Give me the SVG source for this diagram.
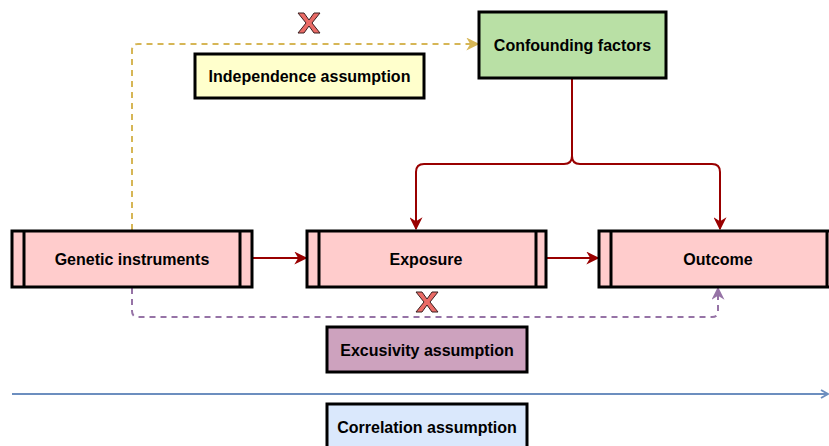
<svg xmlns="http://www.w3.org/2000/svg" width="829" height="446" viewBox="0 0 829 446">
<style>
.box{stroke:#000;stroke-width:3}
.t{font-family:"Liberation Sans",Arial,sans-serif;font-weight:bold;font-size:16px;fill:#000;text-anchor:middle;dominant-baseline:central}
.red{fill:none;stroke:#990000;stroke-width:2}
.x{fill:#ea6b66;stroke:#3a2020;stroke-width:1}
</style>
<defs>
<marker id="ar" viewBox="0 0 10 10" refX="9" refY="5" markerWidth="13" markerHeight="13" markerUnits="userSpaceOnUse" orient="auto"><path d="M0,0 L10,5 L0,10 L3,5 Z" fill="#990000"/></marker>
<marker id="ay" viewBox="0 0 10 10" refX="9" refY="5" markerWidth="13" markerHeight="13" markerUnits="userSpaceOnUse" orient="auto"><path d="M0,0 L10,5 L0,10 L3,5 Z" fill="#d6b656"/></marker>
<marker id="ap" viewBox="0 0 10 10" refX="9" refY="5" markerWidth="13" markerHeight="13" markerUnits="userSpaceOnUse" orient="auto"><path d="M0,0 L10,5 L0,10 L3,5 Z" fill="#9673a6"/></marker>
<marker id="ab" viewBox="0 0 10 10" refX="9" refY="5" markerWidth="10" markerHeight="10" markerUnits="userSpaceOnUse" orient="auto"><path d="M2,1 L9,5 L2,9" fill="none" stroke="#6c8ebf" stroke-width="2"/></marker>
<path id="xm" d="M-11,-10 L-5,-10 L0,-3 L5,-10 L11,-10 L3,0 L11,10 L5,10 L0,3 L-5,10 L-11,10 L-3,0 Z"/>
</defs>
<rect width="829" height="446" fill="#fff"/>
<g id="connectors">
<path d="M132,230 V50 Q132,44 138,44 H478" fill="none" stroke="#d6b656" stroke-width="2" stroke-dasharray="6,5" marker-end="url(#ay)"/>
<path d="M132,288 V311 Q132,317 138,317 H712 Q718,317 718,311 V288" fill="none" stroke="#9673a6" stroke-width="2" stroke-dasharray="6,5" marker-end="url(#ap)"/>
<path class="red" d="M253,258 H306" marker-end="url(#ar)"/>
<path class="red" d="M547,258 H598" marker-end="url(#ar)"/>
<path class="red" d="M572,79 V156 Q572,164 564,164 H424 Q416,164 416,172 V229" marker-end="url(#ar)"/>
<path class="red" d="M572,156 Q572,164 580,164 H712 Q720,164 720,172 V229" marker-end="url(#ar)"/>
<path d="M12,394 H828" fill="none" stroke="#6c8ebf" stroke-width="2" marker-end="url(#ab)"/>
</g>
<g id="x1"><use href="#xm" class="x" transform="translate(309,23)"/></g>
<g id="x2"><use href="#xm" class="x" transform="translate(427,302)"/></g>
<g id="confounding">
<rect class="box" x="479" y="12" width="187" height="66" fill="#b9e0a5"/>
<text class="t" x="572.5" y="45">Confounding factors</text>
</g>
<g id="independence">
<rect class="box" x="195" y="54" width="229" height="44" fill="#ffffcc"/>
<text class="t" x="309.5" y="76">Independence assumption</text>
</g>
<g id="genetic">
<rect class="box" x="12" y="231" width="240" height="56" fill="#ffcccc"/>
<line class="box" x1="24" y1="231" x2="24" y2="287"/>
<line class="box" x1="240" y1="231" x2="240" y2="287"/>
<text class="t" x="132" y="259">Genetic instruments</text>
</g>
<g id="exposure">
<rect class="box" x="307" y="231" width="239" height="56" fill="#ffcccc"/>
<line class="box" x1="319" y1="231" x2="319" y2="287"/>
<line class="box" x1="536" y1="231" x2="536" y2="287"/>
<text class="t" x="426" y="259">Exposure</text>
</g>
<g id="outcome">
<rect class="box" x="599" y="231" width="240" height="56" fill="#ffcccc"/>
<line class="box" x1="611" y1="231" x2="611" y2="287"/>
<line class="box" x1="827" y1="231" x2="827" y2="287"/>
<text class="t" x="718" y="259">Outcome</text>
</g>
<g id="excusivity">
<rect class="box" x="327" y="327" width="200" height="45" fill="#cda2be"/>
<text class="t" x="427" y="350">Excusivity assumption</text>
</g>
<g id="correlation">
<rect class="box" x="327" y="404" width="200" height="50" fill="#dae8fc"/>
<text class="t" x="427" y="427">Correlation assumption</text>
</g>
</svg>
